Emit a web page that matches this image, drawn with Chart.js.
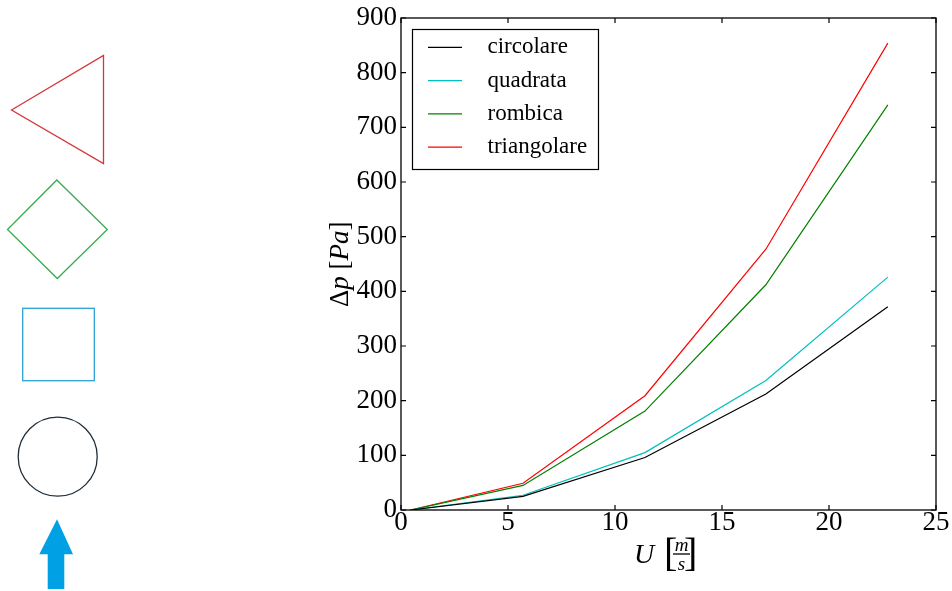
<!DOCTYPE html>
<html>
<head>
<meta charset="utf-8">
<script src="https://cdn.jsdelivr.net/npm/chart.js@4/dist/chart.umd.min.js"></script>
<style>
  html, body { margin: 0; padding: 0; background: #fff; }
  #wrap { position: relative; width: 952px; height: 591px; }
  #shapes { position: absolute; left: 0; top: 0; }
  #graph { position: absolute; left: 0; top: 0; }
</style>
</head>
<body>
<div id="wrap">
  <svg id="shapes" width="130" height="591">
    <polygon points="11.5,110 103.5,55.5 103.5,163.5" fill="none" stroke="#d8343c" stroke-width="1.3"/>
    <polygon points="56.8,180 107.3,229.5 57.3,278.5 7.5,229.5" fill="none" stroke="#3aaa4c" stroke-width="1.3"/>
    <rect x="22.7" y="308.3" width="71.6" height="72.4" fill="none" stroke="#2aa3d6" stroke-width="1.3"/>
    <circle cx="57.7" cy="456.7" r="39.5" fill="none" stroke="#1f2e3b" stroke-width="1.3"/>
    <polygon points="57,519.3 73,554.3 64.3,554.3 64.3,589 47.7,589 47.7,554.3 39.3,554.3" fill="#00a1e4"/>
  </svg>
  <canvas id="graph" width="952" height="591"></canvas>
</div>
<script>
// velocità (m/s) e caduta di pressione (Pa) per le quattro sezioni
var velocita = [0.45, 5.7, 11.4, 17.05, 22.75];
var circolare = [0, 25, 96, 212, 372];
var quadrata = [0, 27, 105, 237, 426];
var rombica = [0, 45, 181, 412, 741];
var triangolare = [0, 49, 209, 477, 854];

var nomi = ['circolare', 'quadrata', 'rombica', 'triangolare'];
var colori = ['#000000', '#00bfbf', '#008000', '#ff0000'];
var serie = [circolare, quadrata, rombica, triangolare];

var SERIF = '"Liberation Serif", "Times New Roman", serif';

function punti(valori) {
	var out = [];
	for (var i = 0; i < velocita.length; i++) {
		out.push({x: velocita[i], y: valori[i]});
	}
	return out;
}

function generateDatasets() {
	var ds = [];
	for (var i = 0; i < serie.length; i++) {
		ds.push({
			label: nomi[i],
			data: punti(serie[i]),
			borderColor: colori[i],
			borderWidth: 1.2,
			pointRadius: 0,
			fill: false,
			tension: 0
		});
	}
	return ds;
}

// cornice, tacche interne, titoli degli assi e legenda
var decorazioni = {
	id: 'decorazioni',
	afterDraw: function(chart) {
		var ctx = chart.ctx;
		var a = chart.chartArea;
		var xs = chart.scales.x, ys = chart.scales.y;
		ctx.save();
		ctx.strokeStyle = '#000';
		ctx.lineWidth = 1.3;
		ctx.strokeRect(a.left, a.top, a.right - a.left, a.bottom - a.top);

		ctx.lineWidth = 1.2;
		ctx.beginPath();
		for (var v = 0; v <= 900; v += 100) {
			var py = ys.getPixelForValue(v);
			ctx.moveTo(a.left, py); ctx.lineTo(a.left + 5, py);
			ctx.moveTo(a.right, py); ctx.lineTo(a.right - 5, py);
		}
		for (var u = 0; u <= 25; u += 5) {
			var px = xs.getPixelForValue(u);
			ctx.moveTo(px, a.bottom); ctx.lineTo(px, a.bottom - 5);
			ctx.moveTo(px, a.top); ctx.lineTo(px, a.top + 5);
		}
		ctx.stroke();

		// titolo asse y: Δp [Pa]
		ctx.fillStyle = '#000';
		ctx.save();
		ctx.translate(348, 307);
		ctx.rotate(-Math.PI / 2);
		ctx.textBaseline = 'alphabetic';
		ctx.textAlign = 'left';
		var xx = 0;
		var parti = [['Δ', ''], ['p', 'italic '], [' ', ''], ['[', ''], ['Pa', 'italic '], [']', '']];
		for (var k = 0; k < parti.length; k++) {
			ctx.font = parti[k][1] + '27px ' + SERIF;
			ctx.fillText(parti[k][0], xx, 0);
			xx += ctx.measureText(parti[k][0]).width;
		}
		ctx.restore();

		// titolo asse x: U [m/s]
		ctx.textAlign = 'left';
		ctx.textBaseline = 'alphabetic';
		ctx.font = 'italic 28px ' + SERIF;
		ctx.fillText('U', 634, 563);
		ctx.font = '40px ' + SERIF;
		ctx.fillText('[', 664, 566);
		ctx.fillText(']', 684, 566);
		ctx.font = 'italic 19px ' + SERIF;
		ctx.textAlign = 'center';
		ctx.fillText('m', 681.5, 551);
		ctx.fillText('s', 681.5, 570);
		ctx.lineWidth = 1.3;
		ctx.beginPath();
		ctx.moveTo(673, 554); ctx.lineTo(690, 554);
		ctx.stroke();

		// legenda
		ctx.fillStyle = '#fff';
		ctx.fillRect(412, 29, 187, 140);
		ctx.lineWidth = 1.2;
		ctx.strokeStyle = '#000';
		ctx.strokeRect(412.5, 29.5, 186, 140);
		ctx.font = '23px ' + SERIF;
		ctx.textAlign = 'left';
		ctx.textBaseline = 'middle';
		var ds = chart.data.datasets;
		for (var i = 0; i < ds.length; i++) {
			var ly = 47.3 + i * 33.3;
			ctx.strokeStyle = ds[i].borderColor;
			ctx.beginPath();
			ctx.moveTo(428, ly); ctx.lineTo(462, ly);
			ctx.stroke();
			ctx.fillStyle = '#000';
			ctx.fillText(ds[i].label, 487.5, ly);
		}
		ctx.restore();
	}
};

function generateGraph(graphID) {
	var graph = document.getElementById(graphID);
	new Chart(graph, {
		type: 'line',
		data: { datasets: generateDatasets() },
		options: {
			responsive: false,
			animation: false,
			layout: { padding: { left: 340, right: 16, top: 18, bottom: 0 } },
			plugins: { legend: { display: false }, tooltip: { enabled: false } },
			scales: {
				x: {
					type: 'linear', min: 0, max: 25,
					grid: { display: false, drawTicks: false },
					border: { display: false },
					ticks: { stepSize: 5, padding: -3, color: '#000', maxRotation: 0,
						font: { family: SERIF, size: 27 } },
					afterFit: function(s) { s.height = 81; s.paddingLeft = 0; s.paddingRight = 0; }
				},
				y: {
					min: 0, max: 900,
					grid: { display: false, drawTicks: false },
					border: { display: false },
					ticks: { stepSize: 100, padding: 4, color: '#000',
						font: { family: SERIF, size: 27 } },
					afterFit: function(s) { s.width = 61; s.paddingTop = 0; s.paddingBottom = 0; }
				}
			}
		},
		plugins: [decorazioni]
	});
}

generateGraph('graph');
</script>
</body>
</html>
